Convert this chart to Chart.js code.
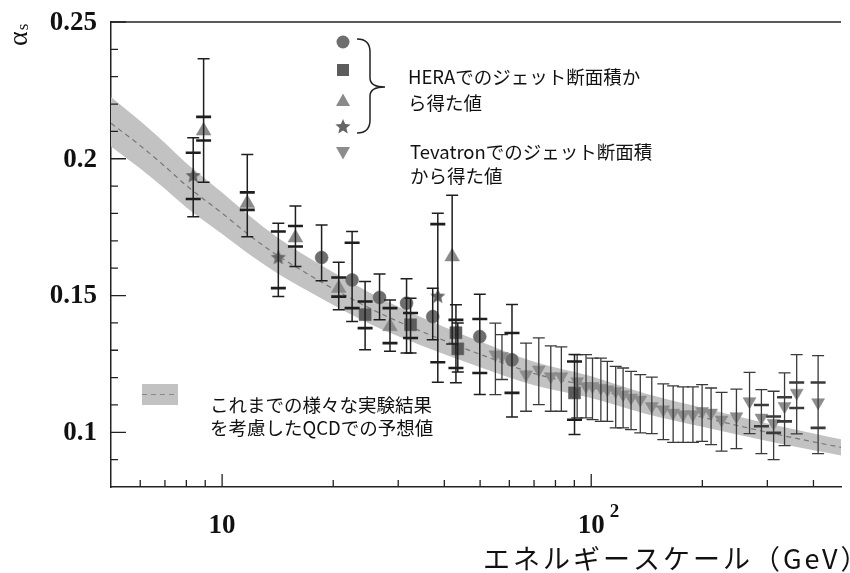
<!DOCTYPE html>
<html lang="ja">
<head>
<meta charset="utf-8">
<title>αs とエネルギースケール</title>
<script src="https://cdn.jsdelivr.net/npm/chart.js"></script>
<style>
  html, body { margin: 0; padding: 0; background: #fff; }
  #wrap { width: 850px; height: 573px; }
</style>
</head>
<body>
<div id="wrap"><canvas id="alphaChart" width="850" height="573"></canvas></div>
<script>
// QCD prediction band (energy in GeV)
const qcdEnergy = [5, 6, 7, 8, 10, 12, 14, 17, 20, 25, 30, 40, 50, 70, 100, 140, 200, 300, 400, 475];
const qcdHigh   = [0.2226, 0.2138, 0.2058, 0.1984, 0.1877, 0.1786, 0.1716, 0.1642, 0.1585, 0.1512,
                   0.1459, 0.1385, 0.1332, 0.1258, 0.1205, 0.1142, 0.1090, 0.1032, 0.0996, 0.0975];
const qcdCenter = [0.2130, 0.2048, 0.1972, 0.1902, 0.1801, 0.1715, 0.1650, 0.1580, 0.1525, 0.1455,
                   0.1405, 0.1335, 0.1285, 0.1215, 0.1165, 0.1105, 0.1055, 0.1000, 0.0965, 0.0945];
const qcdLow    = [0.2045, 0.1964, 0.1890, 0.1822, 0.1725, 0.1645, 0.1584, 0.1518, 0.1465, 0.1398,
                   0.1351, 0.1285, 0.1238, 0.1172, 0.1125, 0.1068, 0.1020, 0.0968, 0.0934, 0.0915];

// measurements: [energy GeV, alpha_s, total low, total high, (stat low, stat high)]
const heraCircle = [
  [18.6, 0.1639, 0.1554, 0.1758],
  [22.5, 0.1557, 0.1405, 0.1734, 0.1454, 0.1693],
  [26.7, 0.1493, 0.1411, 0.1579],
  [31.6, 0.1472, 0.1290, 0.1561],
  [37.2, 0.1423, 0.1338, 0.1527],
  [49.9, 0.1350, 0.1138, 0.1505, 0.1217, 0.1414],
  [61.0, 0.1265, 0.1056, 0.1467, 0.1144, 0.1363]
];
const heraSquare = [
  [24.4, 0.1430, 0.1302, 0.1551, 0.1381, 0.1478],
  [32.4, 0.1393, 0.1290, 0.1490, 0.1345, 0.1436],
  [43.0, 0.1364, 0.1181, 0.1466, 0.1235, 0.1411],
  [43.5, 0.1305, 0.1220, 0.1400],
  [90.1, 0.1144, 0.0992, 0.1284, 0.1046, 0.1259]
];
const heraTriangle = [
  [8.91, 0.2102, 0.1914, 0.2366, 0.2067, 0.2153],
  [11.7, 0.1837, 0.1715, 0.2016, 0.1813, 0.1877],
  [15.8, 0.1711, 0.1606, 0.1827, 0.1679, 0.1754],
  [20.7, 0.1527, 0.1448, 0.1622, 0.1496, 0.1566],
  [28.5, 0.1387, 0.1296, 0.1484, 0.1326, 0.1454],
  [42.0, 0.1642, 0.1323, 0.1867]
];
const heraStar = [
  [8.35, 0.1937, 0.1788, 0.2077, 0.1853, 0.2022],
  [14.2, 0.1638, 0.1496, 0.1764, 0.1527, 0.1734],
  [38.4, 0.1496, 0.1183, 0.1801, 0.1256, 0.1761]
];
const tevatron = [
  [55.0, 0.1284, 0.1138, 0.1399], [57.3, 0.1278, 0.1193, 0.1357],
  [66.6, 0.1211, 0.1077, 0.1326], [72.1, 0.1229, 0.1101, 0.1345],
  [77.7, 0.1204, 0.1077, 0.1316], [83.0, 0.1204, 0.1077, 0.1312],
  [91.6, 0.1186, 0.1053, 0.1284], [96.8, 0.1168, 0.1053, 0.1284],
  [100.8, 0.1168, 0.1046, 0.1271], [106.2, 0.1162, 0.1040, 0.1271],
  [110.6, 0.1156, 0.1040, 0.1259], [116.5, 0.1150, 0.1016, 0.1241],
  [122.0, 0.1138, 0.1016, 0.1235], [128.2, 0.1126, 0.1010, 0.1223],
  [135.8, 0.1119, 0.0998, 0.1211], [145.9, 0.1095, 0.0995, 0.1202],
  [156.8, 0.1083, 0.0973, 0.1177], [166.7, 0.1071, 0.0963, 0.1170],
  [177.4, 0.1065, 0.0963, 0.1166], [188.6, 0.1065, 0.0963, 0.1166],
  [199.7, 0.1077, 0.0967, 0.1174], [211.2, 0.1071, 0.0955, 0.1162],
  [225.5, 0.1046, 0.0931, 0.1146], [247.4, 0.1058, 0.0940, 0.1158],
  [268.5, 0.1113, 0.0995, 0.1219],
  [289.1, 0.1053, 0.0922, 0.1156, 0.1022, 0.1100],
  [312.0, 0.1034, 0.0900, 0.1150, 0.0998, 0.1058],
  [334.0, 0.1095, 0.0951, 0.1217, 0.1040, 0.1128],
  [360.3, 0.1144, 0.0994, 0.1284, 0.1089, 0.1182],
  [411.8, 0.1109, 0.0922, 0.1280, 0.1016, 0.1182]
];

// axis ticks
const yMajorTicks = [0.1, 0.15, 0.2, 0.25];
const yTickLabels = ['0.1', '0.15', '0.2', '0.25'];
const xMajorTicks = [10, 100];
const xTickLabels = ['10', '10'];
const xTickExponents = ['', '2'];

// texts
const axisTitle = 'エネルギースケール（GeV）';
const heraNote = ['HERAでのジェット断面積か', 'ら得た値'];
const tevatronNote = ['Tevatronでのジェット断面積', 'から得た値'];
const qcdNote = ['これまでの様々な実験結果', 'を考慮したQCDでの予想値'];

const JP = '"Noto Sans CJK JP", "Noto Sans", sans-serif';
const SERIF = '"Liberation Serif", "DejaVu Serif", serif';
const BAND = '#c2c2c2';

// filled five point star for the pointStyle
function makeStar(r, color) {
    const c = document.createElement('canvas');
    c.width = c.height = Math.ceil(r * 2 + 2);
    const g = c.getContext('2d');
    g.fillStyle = color;
    g.beginPath();
    for (let i = 0; i < 10; i++) {
        const rad = i % 2 ? r * 0.45 : r;
        const a = -Math.PI / 2 + i * Math.PI / 5;
        g.lineTo(c.width / 2 + rad * Math.cos(a), c.height / 2 + rad * Math.sin(a));
    }
    g.closePath();
    g.fill();
    return c;
}
const starImg = makeStar(8, '#656565');

const toPoints = rows => rows.map(r => ({ x: r[0], y: r[1] }));

// marker drawing for the hand-made legend
function drawMarker(ctx, kind, x, y, color) {
    ctx.save();
    ctx.fillStyle = color;
    ctx.beginPath();
    if (kind === 'circle') {
        ctx.arc(x, y, 6.5, 0, Math.PI * 2);
    } else if (kind === 'rect') {
        ctx.rect(x - 6, y - 6, 12, 12);
    } else if (kind === 'up' || kind === 'down') {
        const s = kind === 'up' ? 1 : -1;
        ctx.moveTo(x, y - s * 7.5);
        ctx.lineTo(x + 7, y + s * 5);
        ctx.lineTo(x - 7, y + s * 5);
        ctx.closePath();
    }
    ctx.fill();
    if (kind === 'star') {
        ctx.drawImage(starImg, x - starImg.width / 2, y - starImg.height / 2);
    }
    ctx.restore();
}

function drawErrorBars(ctx, xs, ys, rows, color, lw, capW, statW) {
    rows.forEach(r => {
        const x = xs.getPixelForValue(r[0]);
        const yLo = ys.getPixelForValue(r[2]);
        const yHi = ys.getPixelForValue(r[3]);
        ctx.strokeStyle = color;
        ctx.lineWidth = lw;
        ctx.beginPath();
        ctx.moveTo(x, yHi); ctx.lineTo(x, yLo);
        ctx.moveTo(x - capW / 2, yHi); ctx.lineTo(x + capW / 2, yHi);
        ctx.moveTo(x - capW / 2, yLo); ctx.lineTo(x + capW / 2, yLo);
        ctx.stroke();
        if (r.length > 4) {
            ctx.lineWidth = 2.6;
            ctx.beginPath();
            [r[4], r[5]].forEach(v => {
                const y = ys.getPixelForValue(v);
                ctx.moveTo(x - statW / 2, y);
                ctx.lineTo(x + statW / 2, y);
            });
            ctx.stroke();
        }
    });
}

// frame, inward ticks, labels and notes
const decorPlugin = {
    id: 'decor',
    afterDatasetsDraw(chart) {
        const { ctx, chartArea: area, scales: { x: xs, y: ys } } = chart;

        // error bars on top of the markers
        ctx.save();
        ctx.beginPath();
        ctx.rect(area.left, area.top, area.right - area.left, area.bottom - area.top);
        ctx.clip();
        drawErrorBars(ctx, xs, ys, tevatron, '#3a3a3a', 1.3, 12, 15);
        drawErrorBars(ctx, xs, ys, heraCircle, '#1e1e1e', 1.5, 12, 15);
        drawErrorBars(ctx, xs, ys, heraSquare, '#1e1e1e', 1.5, 12, 15);
        drawErrorBars(ctx, xs, ys, heraTriangle, '#1e1e1e', 1.5, 12, 15);
        drawErrorBars(ctx, xs, ys, heraStar, '#1e1e1e', 1.5, 12, 15);
        ctx.restore();
    },
    afterDraw(chart) {
        const { ctx, chartArea: area, scales: { x: xs, y: ys } } = chart;
        ctx.save();
        ctx.strokeStyle = '#222';
        ctx.fillStyle = '#111';

        // top frame line
        ctx.lineWidth = 1.5;
        ctx.beginPath();
        ctx.moveTo(area.left, area.top);
        ctx.lineTo(area.right, area.top);
        ctx.stroke();

        // x ticks (log), pointing inward
        ctx.lineWidth = 1.3;
        ctx.beginPath();
        [1, 10, 100].forEach(d => {
            for (let m = 1; m <= 9; m++) {
                const v = m * d;
                if (v <= xs.min || v >= xs.max) continue;
                const px = xs.getPixelForValue(v);
                const len = m === 1 ? 13 : 7;
                ctx.moveTo(px, area.bottom);
                ctx.lineTo(px, area.bottom - len);
            }
        });
        // y ticks every 0.01
        for (let k = 9; k <= 25; k++) {
            const v = k / 100;
            const py = ys.getPixelForValue(v);
            const major = yMajorTicks.some(t => Math.abs(t - v) < 1e-9);
            ctx.moveTo(area.left, py);
            ctx.lineTo(area.left + (major ? 15 : 7), py);
        }
        ctx.stroke();

        // y tick labels
        ctx.font = 'bold 27px ' + SERIF;
        ctx.textAlign = 'right';
        ctx.textBaseline = 'middle';
        yMajorTicks.forEach((v, i) => {
            ctx.fillText(yTickLabels[i], area.left - 14, ys.getPixelForValue(v) + 1);
        });

        // x tick labels
        ctx.textAlign = 'center';
        ctx.textBaseline = 'alphabetic';
        xMajorTicks.forEach((v, i) => {
            const px = xs.getPixelForValue(v);
            ctx.font = 'bold 27px ' + SERIF;
            ctx.fillText(xTickLabels[i], px, 533);
            if (xTickExponents[i]) {
                const w = ctx.measureText(xTickLabels[i]).width;
                ctx.font = 'bold 19px ' + SERIF;
                ctx.textAlign = 'left';
                ctx.fillText(xTickExponents[i], px + w / 2 + 5, 517);
                ctx.textAlign = 'center';
            }
        });

        // axis title, spaced out like the original
        ctx.font = '27px ' + JP;
        ctx.textAlign = 'left';
        ctx.textBaseline = 'middle';
        ctx.letterSpacing = '3px';
        ctx.fillText(axisTitle, 483, 559);
        ctx.letterSpacing = '0px';

        // alpha_s label, rotated
        ctx.save();
        ctx.translate(27, 46);
        ctx.rotate(-Math.PI / 2);
        ctx.textAlign = 'left';
        ctx.textBaseline = 'alphabetic';
        ctx.font = '28px ' + SERIF;
        ctx.fillText('α', 0, 0);
        const aw = ctx.measureText('α').width;
        ctx.font = '17px ' + SERIF;
        ctx.fillText('s', aw + 1, 1);
        ctx.restore();

        // legend markers and brace
        drawMarker(ctx, 'circle', 343, 42, '#6e6e6e');
        drawMarker(ctx, 'rect', 343, 70, '#5c5c5c');
        drawMarker(ctx, 'up', 343, 101, '#8a8a8a');
        drawMarker(ctx, 'star', 343, 127, '#656565');
        drawMarker(ctx, 'down', 343, 152, '#8c8c8c');

        ctx.lineWidth = 1.5;
        ctx.strokeStyle = '#222';
        ctx.beginPath();
        ctx.moveTo(357, 39);
        ctx.quadraticCurveTo(370, 39, 370, 52);
        ctx.lineTo(370, 78);
        ctx.quadraticCurveTo(370, 87, 385, 87);
        ctx.quadraticCurveTo(370, 87, 370, 96);
        ctx.lineTo(370, 120);
        ctx.quadraticCurveTo(370, 133, 357, 133);
        ctx.stroke();

        // notes
        ctx.font = '18.5px ' + JP;
        ctx.textAlign = 'left';
        ctx.textBaseline = 'middle';
        ctx.fillText(heraNote[0], 408, 77);
        ctx.fillText(heraNote[1], 408, 103);
        ctx.fillText(tevatronNote[0], 410, 152);
        ctx.fillText(tevatronNote[1], 410, 176);
        ctx.fillText(qcdNote[0], 210, 405);
        ctx.fillText(qcdNote[1], 210, 428);

        // band swatch
        ctx.fillStyle = BAND;
        ctx.fillRect(142, 384, 36, 21);
        ctx.strokeStyle = '#888';
        ctx.lineWidth = 1.2;
        ctx.setLineDash([5, 4]);
        ctx.beginPath();
        ctx.moveTo(142, 394.5);
        ctx.lineTo(178, 394.5);
        ctx.stroke();
        ctx.setLineDash([]);

        ctx.restore();
    }
};

function markerSet(rows, style, color, radius, rotation) {
    return {
        type: 'scatter',
        data: toPoints(rows),
        pointStyle: style,
        rotation: rotation || 0,
        pointRadius: radius,
        pointBackgroundColor: color,
        pointBorderColor: color,
        pointBorderWidth: 0.5,
        showLine: false,
        order: 1
    };
}

const bandPoints = values => qcdEnergy.map((e, i) => ({ x: e, y: values[i] }));

new Chart(document.getElementById('alphaChart'), {
    type: 'scatter',
    data: {
        datasets: [
            {
                data: bandPoints(qcdHigh), showLine: true, borderWidth: 0,
                pointRadius: 0, fill: false, cubicInterpolationMode: 'monotone', order: 10
            },
            {
                data: bandPoints(qcdLow), showLine: true, borderWidth: 0,
                pointRadius: 0, fill: '-1', backgroundColor: BAND,
                cubicInterpolationMode: 'monotone', order: 9
            },
            {
                data: bandPoints(qcdCenter), showLine: true, borderWidth: 1.2,
                borderColor: '#777', borderDash: [5, 4], pointRadius: 0,
                fill: false, cubicInterpolationMode: 'monotone', order: 8
            },
            markerSet(tevatron, 'triangle', '#8c8c8c', 7.5, 180),
            markerSet(heraCircle, 'circle', '#6e6e6e', 6.5),
            markerSet(heraSquare, 'rect', '#5c5c5c', 8.5),
            markerSet(heraTriangle, 'triangle', '#8a8a8a', 8.5),
            markerSet(heraStar, starImg, '#656565', 8)
        ]
    },
    options: {
        responsive: false,
        animation: false,
        devicePixelRatio: 1,
        layout: { padding: { left: 0, top: 22, right: 0, bottom: 0 } },
        plugins: { legend: { display: false }, tooltip: { enabled: false } },
        scales: {
            x: {
                type: 'logarithmic', min: 5, max: 475, position: 'bottom',
                grid: { display: false, drawTicks: false },
                ticks: { display: false },
                border: { display: true, color: '#222', width: 1.5 },
                afterFit: s => { s.height = 86; }
            },
            y: {
                type: 'linear', min: 0.08, max: 0.25,
                grid: { display: false, drawTicks: false },
                ticks: { display: false, stepSize: 0.01 },
                border: { display: true, color: '#222', width: 1.5 },
                afterFit: s => { s.width = 111; }
            }
        }
    },
    plugins: [decorPlugin]
});
</script>
</body>
</html>
